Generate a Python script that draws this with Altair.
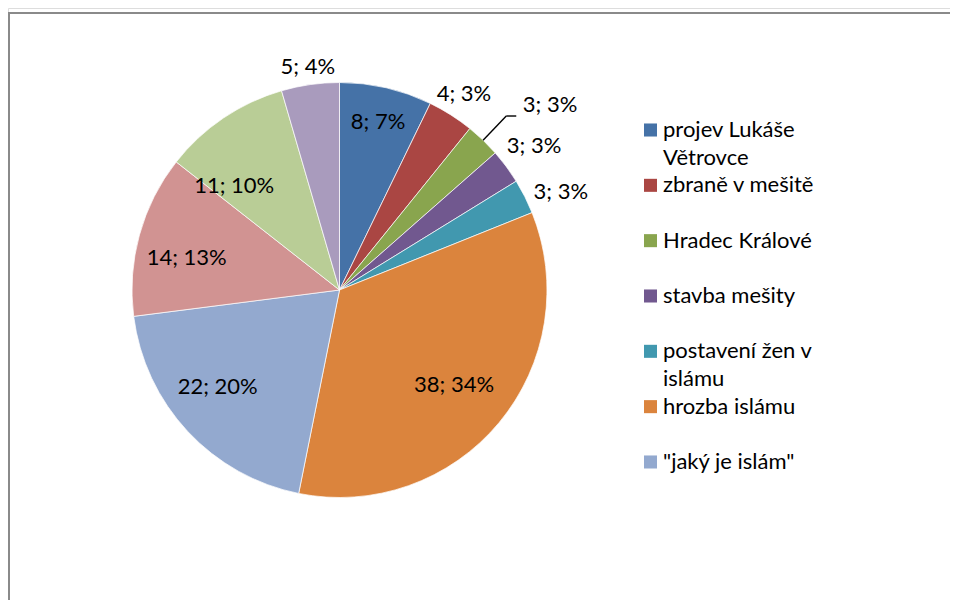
import altair as alt
import textwrap

# ---- data ----
names = ["projev Lukáše Větrovce", "zbraně v mešitě", "Hradec Králové", "stavba mešity",
         "postavení žen v islámu", "hrozba islámu", "\"jaký je islám\"",
         "kategorie 8", "kategorie 9", "kategorie 10"]
values = [8, 4, 3, 3, 3, 38, 22, 14, 11, 5]
pct_labels = ["7%", "3%", "3%", "3%", "3%", "34%", "20%", "13%", "10%", "4%"]
colors = ["#4572A7", "#AA4643", "#89A54E", "#71588F", "#4198AF", "#DB843D",
          "#93A9CF", "#D19392", "#B9CD96", "#A99BBD"]
legend_count = 7  # only the first seven entries are visible in the legend

# ---- layout constants ----
W, H = 942, 592
CX, CY, R = 331.5, 282.0, 207.5
FONT = "Lato"
FS = 22

rows = [{"idx": i, "name": n, "value": v, "label": f"{v}; {p}"}
        for i, (n, v, p) in enumerate(zip(names, values, pct_labels))]
leg_rows = [{"idx": i, "name": n, "lines": textwrap.wrap(n, 15)}
            for i, n in enumerate(names[:legend_count])]

color = alt.Color("name:N", scale=alt.Scale(domain=names, range=colors), legend=None)

pie = alt.Chart(alt.Data(values=rows)).mark_arc(
    radius=R, stroke="white", strokeWidth=0.7
).encode(
    theta=alt.Theta("value:Q", stack=True),
    order=alt.Order("idx:Q"),
    color=color,
    x=alt.value(CX), y=alt.value(CY),
)

base = alt.Chart(alt.Data(values=rows)).transform_window(
    cum="sum(value)", sort=[alt.SortField("idx")], frame=[None, 0]
).transform_joinaggregate(
    total="sum(value)"
).transform_calculate(
    mid="(datum.cum - datum.value / 2) / datum.total * 2 * PI"
)

# best-fit label placement (Excel style): inside for large slices, outside for small ones
labels = base.transform_calculate(
    ang="datum.mid + (datum.idx == 2 ? 0.087 : datum.idx == 8 ? -0.197 : datum.idx == 6 ? 0.075 : datum.idx == 7 ? -0.065 : datum.idx == 4 ? 0.05 : 0)",
    lr="datum.idx == 2 ? 280 : datum.idx == 9 ? 225 : datum.idx == 1 ? 232 : datum.value < 8 ? 242 : datum.idx == 0 ? 172 : datum.idx == 8 ? 148 : datum.idx == 5 ? 149 : 156",
).transform_calculate(
    lx=f"{CX} + datum.lr * sin(datum.ang)",
    ly=f"{CY} - datum.lr * cos(datum.ang)",
).mark_text(font=FONT, fontSize=FS, color="black", align="center", baseline="middle").encode(
    x=alt.X("lx:Q", scale=None, axis=None),
    y=alt.Y("ly:Q", scale=None, axis=None),
    text="label:N",
)

leader_base = base.transform_filter("datum.idx == 2").transform_calculate(
    x1=f"{CX} + {R} * sin(datum.mid)",
    y1=f"{CY} - {R} * cos(datum.mid)",
    x2=f"{CX} + 241 * sin(datum.mid)",
    y2=f"{CY} - 241 * cos(datum.mid)",
).transform_calculate(
    x3="datum.x2 + 10"
)
leader1 = leader_base.mark_rule(color="black", strokeWidth=1.4).encode(
    x=alt.X("x1:Q", scale=None, axis=None), y=alt.Y("y1:Q", scale=None, axis=None),
    x2="x2:Q", y2="y2:Q",
)
leader2 = leader_base.mark_rule(color="black", strokeWidth=1.4).encode(
    x=alt.X("x2:Q", scale=None, axis=None), y=alt.Y("y2:Q", scale=None, axis=None),
    x2="x3:Q", y2="y2:Q",
)

leg_base = alt.Chart(alt.Data(values=leg_rows)).transform_calculate(
    ly="122 + datum.idx * 55.33"
).transform_calculate(
    ty="datum.ly + 7"
)
leg_sq = leg_base.mark_square(size=170, opacity=1).encode(
    x=alt.value(642.5),
    y=alt.Y("ly:Q", scale=None, axis=None),
    color=color,
)
leg_txt = leg_base.mark_text(font=FONT, fontSize=FS, color="black", align="left",
                             baseline="alphabetic", lineHeight=28).encode(
    x=alt.value(655),
    y=alt.Y("ty:Q", scale=None, axis=None),
    text="lines:N",
)

frame_data = alt.Data(values=[{"k": 1}])
frame_top = alt.Chart(frame_data).mark_rule(color="#8a8a8a", strokeWidth=2).encode(
    x=alt.value(0), x2=alt.value(W), y=alt.value(5), y2=alt.value(5)
)
frame_left = alt.Chart(frame_data).mark_rule(color="#8a8a8a", strokeWidth=2).encode(
    x=alt.value(1), x2=alt.value(1), y=alt.value(4), y2=alt.value(H)
)

chart = alt.layer(
    frame_top, frame_left, pie, labels, leader1, leader2, leg_sq, leg_txt
).properties(
    width=W, height=H, padding=0,
    autosize=alt.AutoSizeParams(type="none"),
).configure_view(stroke=None).configure(background="white")

chart.save("out.html", embed_options={"renderer": "svg", "actions": False})
